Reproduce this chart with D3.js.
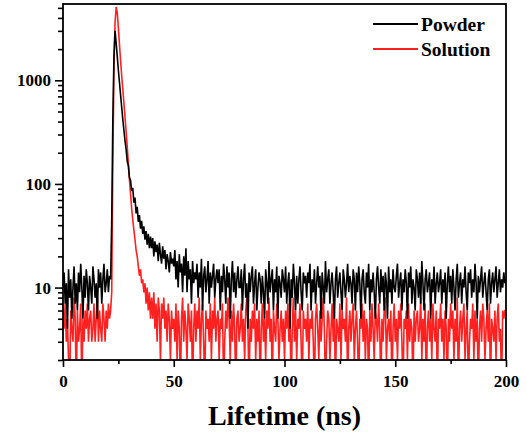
<!DOCTYPE html>
<html>
<head>
<meta charset="utf-8">
<script src="https://cdn.jsdelivr.net/npm/d3@7"></script>
<style>
  body { margin: 0; background: #fff; }
  text { font-family: "Liberation Serif", "Times New Roman", serif; font-weight: bold; fill: #000; }
</style>
</head>
<body>
<svg width="527" height="435"></svg>
<script>
// decay counts, one value per 0.5 ns channel (0 .. 200 ns)
var step = 0.5;

var powder = [
  10,14,7,11,4,15,8,12,5,10,16,7,11,6,14,9,17,10,5,13,
  8,15,11,6,13,10,7,16,12,8,11,5,15,10,14,7,12,17,9,11,
  15,9,13,12,45,420,1700,3000,2300,1700,1250,950,720,550,420,330,260,215,165,150,
  115,108,86,92,66,74,52,60,43,50,37,44,33,39,29,35,26,33,24,31,
  24,30,20,28,22,26,18,27,21,17,25,19,23,15,21,18,14,22,17,19,
  16,23,12,18,10,21,14,17,9,20,13,24,9,18,12,15,7,18,11,14,
  12,17,8,14,10,19,6,13,16,9,12,18,7,14,10,13,17,8,12,15,
  11,15,6,13,9,17,12,7,16,10,14,5,12,18,9,14,8,12,16,10,
  10,15,6,12,17,8,11,4,14,9,13,16,7,11,15,6,10,14,12,7,
  13,9,5,15,11,7,18,9,12,15,6,12,9,16,5,13,11,8,15,12,
  9,16,7,11,14,4,12,8,17,11,6,13,7,12,16,9,6,14,11,13,
  8,14,11,17,6,12,9,15,7,11,16,10,13,5,14,10,7,18,9,12,
  15,7,11,14,9,5,12,16,8,11,14,9,6,15,12,8,11,17,9,13,
  11,7,15,12,6,14,9,16,11,5,12,15,9,7,14,10,17,6,12,9,
  14,9,5,12,16,10,7,15,9,13,6,14,11,5,16,9,12,7,15,10,
  9,13,17,8,11,14,6,12,9,15,11,5,14,10,16,7,12,10,6,15,
  12,8,14,7,18,11,6,12,15,9,11,14,5,12,9,16,7,11,14,9,
  11,15,7,12,9,14,5,11,16,9,13,7,15,10,6,12,17,8,11,14,
  7,12,10,16,9,6,14,11,15,8,12,9,17,11,5,13,9,12,16,8,
  11,14,9,6,12,15,7,11,14,9,12,16,8,11,15,9,12,10,14,11,
  12
];

var solution = [
  6,4,7,3,5,2,1,6,4,3,8,5,1,6,3,4,7,1,5,3,
  6,4,7,3,5,6,3,4,7,3,5,8,3,6,4,3,7,5,3,6,
  4,7,5,6,9,160,1300,3600,5100,4500,3200,2200,1550,1100,820,600,440,320,230,160,
  110,80,58,45,36,29,23,20,16,13,15,11,12,9,11,7,10,6,9,5,
  8,5,9,4,7,3,8,6,2,7,5,8,4,6,3,7,5,2,6,4,
  5,3,7,2,6,4,1,5,8,3,6,4,2,7,5,3,6,1,4,7,
  3,6,4,8,2,5,7,3,1,6,4,5,3,7,2,6,4,8,3,5,
  6,2,5,4,7,1,3,6,4,8,5,2,6,3,7,4,1,5,6,3,
  4,7,3,5,2,6,8,4,1,5,3,6,4,7,2,5,3,6,1,4,
  7,3,5,2,6,4,8,3,5,1,6,4,3,7,5,2,4,6,3,5,
  2,6,4,7,3,5,1,4,8,3,6,2,5,4,7,3,1,6,4,5,
  3,7,2,5,4,6,3,1,5,7,4,2,6,3,5,8,4,1,3,6,
  5,2,4,7,3,6,1,5,4,3,7,2,6,4,5,3,8,1,4,6,
  3,5,7,2,4,6,3,1,5,4,7,3,6,2,5,4,1,6,3,7,
  4,2,6,5,3,7,4,1,5,3,6,8,2,4,5,3,6,1,4,7,
  3,5,2,6,4,7,3,1,5,4,6,2,7,3,5,4,1,6,3,5,
  6,3,4,8,2,5,3,7,1,4,6,3,5,2,7,4,3,6,1,5,
  4,7,3,5,2,6,4,1,5,3,7,4,6,2,5,3,8,1,4,6,
  3,5,7,2,4,6,1,3,5,4,7,2,6,3,5,1,4,6,3,7,
  5,2,4,6,3,7,1,5,4,3,6,2,5,7,3,4,1,6,5,6,
  6
];

var xTicks = [0, 50, 100, 150, 200];
var yTicks = [10, 100, 1000];
var seriesNames = ["Powder", "Solution"];
var seriesColors = ["#000000", "#ff2020"];

var plotLeft = 63, plotRight = 506, plotTop = 4, plotBottom = 360;

var svg = d3.select("svg");

var x = d3.scaleLinear().domain([0, 200]).range([plotLeft, plotRight]);
var y = d3.scaleLog().domain([2, 5450]).range([plotBottom, plotTop]);

svg.append("clipPath").attr("id", "plot")
   .append("rect")
   .attr("x", plotLeft).attr("y", plotTop)
   .attr("width", plotRight - plotLeft).attr("height", plotBottom - plotTop);

var line = d3.line()
             .x(function(d, i) {return x(i * step);})
             .y(function(d) {return y(Math.max(d, 1));});

// red first so the black trace sits on top
svg.append("path")
   .datum(solution)
   .attr("clip-path", "url(#plot)")
   .attr("d", line)
   .attr("fill", "none")
   .attr("stroke", seriesColors[1])
   .attr("stroke-width", 1.6);

svg.append("path")
   .datum(powder)
   .attr("clip-path", "url(#plot)")
   .attr("d", line)
   .attr("fill", "none")
   .attr("stroke", seriesColors[0])
   .attr("stroke-width", 1.6);

// frame
svg.append("rect")
   .attr("x", plotLeft).attr("y", plotTop)
   .attr("width", plotRight - plotLeft).attr("height", plotBottom - plotTop)
   .attr("fill", "none")
   .attr("stroke", "#000")
   .attr("stroke-width", 1.8);

// x axis, minor ticks every 25
var xAxis = svg.append("g").attr("transform", "translate(0," + plotBottom + ")");
xAxis.call(d3.axisBottom(x).tickValues(d3.range(25, 200, 50)).tickSize(4).tickFormat(""));
xAxis.append("g").call(d3.axisBottom(x).tickValues(xTicks).tickSize(7).tickPadding(8));
xAxis.selectAll(".domain").remove();
xAxis.selectAll("line").attr("stroke-width", 1.6);
xAxis.selectAll("text").style("font-size", "17px");

// y axis with log minor ticks
var minor = [];
[1, 10, 100, 1000].forEach(function(p) {
  d3.range(2, 10).forEach(function(m) {
    if (m * p <= 5450 && m * p >= 2) minor.push(m * p);
  });
});
var yAxis = svg.append("g").attr("transform", "translate(" + plotLeft + ",0)");
yAxis.call(d3.axisLeft(y).tickValues(minor).tickSize(5).tickFormat(""));
yAxis.append("g").call(d3.axisLeft(y).tickValues(yTicks).tickSize(8).tickPadding(4).tickFormat(d3.format("d")));
yAxis.selectAll(".domain").remove();
yAxis.selectAll("line").attr("stroke-width", 1.6);
yAxis.selectAll("text").style("font-size", "17px");

svg.append("text")
   .attr("x", (plotLeft + plotRight) / 2)
   .attr("y", 425)
   .attr("text-anchor", "middle")
   .style("font-size", "28px")
   .text("Lifetime (ns)");

// legend
var legend = svg.selectAll(".legend")
                .data(seriesNames)
                .enter()
                .append("g")
                .attr("transform", function(d, i) {return "translate(0," + (24 + i * 25) + ")";});

legend.append("line")
      .attr("x1", 373).attr("x2", 418)
      .attr("stroke", function(d, i) {return seriesColors[i];})
      .attr("stroke-width", 2);

legend.append("text")
      .attr("x", 421)
      .attr("y", 7)
      .style("font-size", "19.5px")
      .text(function(d) {return d;});
</script>
</body>
</html>
